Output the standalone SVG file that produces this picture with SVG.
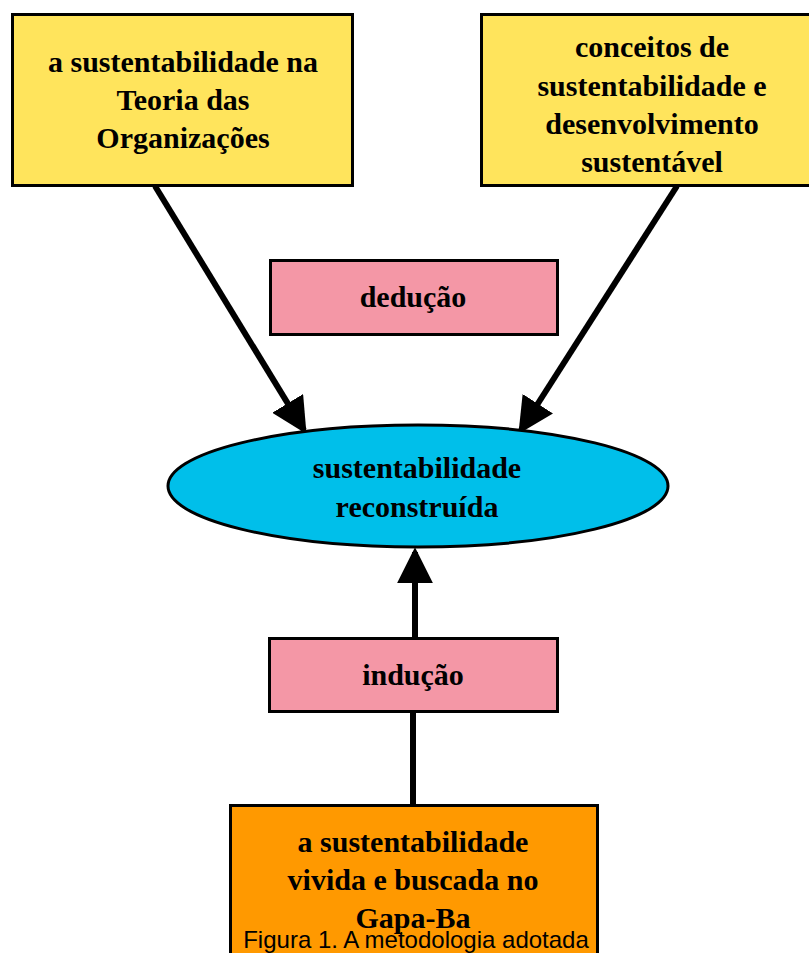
<svg xmlns="http://www.w3.org/2000/svg" width="809" height="953" viewBox="0 0 809 953">
<defs>
<style>
.box{stroke:#000;stroke-width:3}
.t{font-family:"Liberation Serif","Times New Roman",serif;font-weight:bold;font-size:30px;text-anchor:middle;fill:#000}
.cap{font-family:"Liberation Sans",Arial,sans-serif;font-size:24px;text-anchor:middle;fill:#000}
.line{stroke:#000;stroke-width:6;fill:none}
</style>
<marker id="ah" markerWidth="6" markerHeight="6" refX="5.2" refY="3" orient="auto" markerUnits="strokeWidth">
<path d="M0,0 L6,3 L0,6 z" fill="#000"/>
</marker>
</defs>
<rect width="809" height="953" fill="#fff"/>
<g id="connectors">
<line class="line" x1="155" y1="186" x2="304" y2="430" marker-end="url(#ah)"/>
<line class="line" x1="677" y1="186" x2="521" y2="430" marker-end="url(#ah)"/>
<line class="line" x1="415" y1="638" x2="415" y2="552" marker-end="url(#ah)"/>
<line class="line" x1="413" y1="710" x2="413" y2="805" stroke-linecap="round"/>
</g>
<g id="n1">
<rect class="box" x="12.5" y="14.5" width="340" height="171" fill="#FFE45C"/>
<text class="t" x="183" y="72">a sustentabilidade na</text>
<text class="t" x="183" y="110">Teoria das</text>
<text class="t" x="183" y="148">Organizações</text>
</g>
<g id="n2">
<rect class="box" x="481.5" y="14.5" width="330" height="171" fill="#FFE45C"/>
<text class="t" x="652" y="57">conceitos de</text>
<text class="t" x="652" y="96">sustentabilidade e</text>
<text class="t" x="652" y="134">desenvolvimento</text>
<text class="t" x="652" y="172">sustentável</text>
</g>
<g id="deducao">
<rect class="box" x="270.5" y="260.5" width="287" height="74" fill="#F497A6"/>
<text class="t" x="413" y="307">dedução</text>
</g>
<g id="reconstruida">
<ellipse class="box" cx="418" cy="486" rx="250" ry="61" fill="#00BFEA"/>
<text class="t" x="417" y="478">sustentabilidade</text>
<text class="t" x="417" y="517">reconstruída</text>
</g>
<g id="inducao">
<rect class="box" x="269.5" y="638.5" width="288" height="73" fill="#F497A6"/>
<text class="t" x="413" y="685">indução</text>
</g>
<g id="gapa">
<rect class="box" x="230.5" y="805.5" width="367" height="160" fill="#FF9900"/>
<text class="t" x="413" y="852">a sustentabilidade</text>
<text class="t" x="413" y="890">vivida e buscada no</text>
<text class="t" x="413" y="928">Gapa-Ba</text>
</g>
<text class="cap" x="416" y="948">Figura 1. A metodologia adotada</text>
</svg>
